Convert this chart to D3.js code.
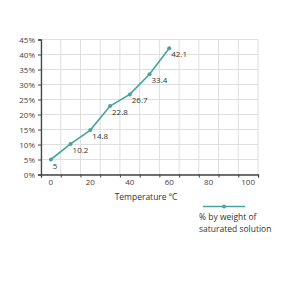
<!DOCTYPE html>
<html lang="en">
<head>
<meta charset="UTF-8">
<title>Solubility chart</title>
<script src="https://cdn.jsdelivr.net/npm/d3@7"></script>
<style>
  body { margin: 0; background: #fff; }
  text { font-family: "Open Sans", "DejaVu Sans", sans-serif; fill: #333; }
</style>
</head>
<body>
<div id="chart"></div>
<script>
// data
var temps = [0, 10, 20, 30, 40, 50, 60];
var percent = [5, 10.2, 14.8, 22.8, 26.7, 33.4, 42.1];
var xLabels = [0, 20, 40, 60, 80, 100];
var xGrid = [-5, 5, 15, 25, 35, 45, 55, 65, 75, 85, 95, 105];
var yTicks = [0, 5, 10, 15, 20, 25, 30, 35, 40, 45];
var xTitle = "Temperature \u00baC";
var legendLines = ["% by weight of", "saturated solution"];

var W = 300, H = 300;
var lineColor = "#45a59c";

var svg = d3.select("#chart").append("svg")
  .attr("width", W).attr("height", H);

var x = d3.scaleLinear().domain([-5, 105]).range([41, 258]);
var y = d3.scaleLinear().domain([0, 45]).range([174.5, 39.5]);

// grid
var grid = svg.append("g");
grid.selectAll(".gx").data(xGrid).enter().append("line")
  .attr("x1", function(d) { return x(d); }).attr("x2", function(d) { return x(d); })
  .attr("y1", y(0)).attr("y2", y(45))
  .attr("stroke", "#dedede").attr("stroke-width", 1);
grid.selectAll(".gy").data(yTicks).enter().append("line")
  .attr("x1", x(-5)).attr("x2", x(105))
  .attr("y1", function(d) { return y(d); }).attr("y2", function(d) { return y(d); })
  .attr("stroke", "#dedede").attr("stroke-width", 1);

// y axis
var yAxis = svg.append("g")
  .attr("transform", "translate(" + x(-5) + ",0)")
  .call(d3.axisLeft(y).tickValues(yTicks).tickSize(3).tickPadding(3)
    .tickFormat(function(d) { return d + "%"; }));
yAxis.select(".domain").attr("stroke", "#444").attr("stroke-width", 1.3);
yAxis.selectAll(".tick line").attr("stroke", "#444");
yAxis.selectAll("text").style("font-size", "8px").style("fill", "#444");

// x axis: ticks between labels, labels on the even values
var xAxis = svg.append("g")
  .attr("transform", "translate(0," + y(0) + ")")
  .call(d3.axisBottom(x).tickValues(xGrid).tickSize(3).tickFormat(""));
xAxis.select(".domain").attr("stroke", "#444").attr("stroke-width", 1.3);
xAxis.selectAll(".tick line").attr("stroke", "#444");

svg.append("g").selectAll("text").data(xLabels).enter().append("text")
  .attr("x", function(d) { return x(d); })
  .attr("y", y(0) + 10)
  .attr("text-anchor", "middle")
  .style("font-size", "8px").style("fill", "#444")
  .text(function(d) { return d; });

svg.append("text")
  .attr("x", 146).attr("y", 200)
  .attr("text-anchor", "middle")
  .style("font-size", "8.5px")
  .text(xTitle);

// line + markers
var pts = temps.map(function(t, i) { return [t, percent[i]]; });
var line = d3.line()
  .x(function(d) { return x(d[0]); })
  .y(function(d) { return y(d[1]); });

svg.append("path").datum(pts)
  .attr("d", line)
  .attr("fill", "none")
  .attr("stroke", lineColor)
  .attr("stroke-width", 1.6);

svg.selectAll(".pt").data(pts).enter().append("circle")
  .attr("cx", function(d) { return x(d[0]); })
  .attr("cy", function(d) { return y(d[1]); })
  .attr("r", 2)
  .attr("fill", lineColor);

svg.selectAll(".lbl").data(pts).enter().append("text")
  .attr("x", function(d) { return x(d[0]) + 2; })
  .attr("y", function(d) { return y(d[1]) + 9; })
  .style("font-size", "8px")
  .text(function(d) { return d[1]; });

// legend
var lg = svg.append("g");
lg.append("line")
  .attr("x1", 203).attr("x2", 245).attr("y1", 206.5).attr("y2", 206.5)
  .attr("stroke", lineColor).attr("stroke-width", 1.6);
lg.append("circle").attr("cx", 224).attr("cy", 206.5).attr("r", 2).attr("fill", lineColor);
lg.selectAll("text").data(legendLines).enter().append("text")
  .attr("x", 199)
  .attr("y", function(d, i) { return 220 + i * 11.5; })
  .style("font-size", "8.5px")
  .text(function(d) { return d; });
</script>
</body>
</html>
